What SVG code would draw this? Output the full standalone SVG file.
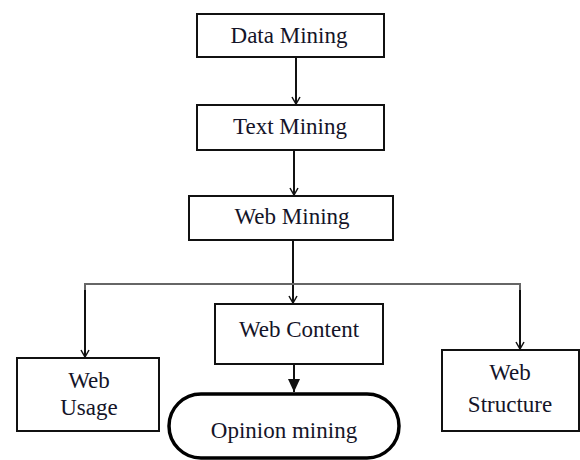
<svg xmlns="http://www.w3.org/2000/svg" width="580" height="460" viewBox="0 0 580 460">
<style>
.box{fill:#fff;stroke:#111;stroke-width:2}
.t{font-family:"Liberation Serif","Times New Roman",serif;font-size:23px;fill:#141428;text-anchor:middle}
.c{fill:none;stroke:#111;stroke-width:2}
.g{fill:none;stroke:#666;stroke-width:2}
</style>
<defs>
<marker id="open" markerWidth="10" markerHeight="10" refX="8" refY="5" orient="auto" markerUnits="userSpaceOnUse">
<path d="M1,1 L8,5 L1,9" fill="none" stroke="#111" stroke-width="1.5"/>
</marker>
<marker id="fill" markerWidth="14" markerHeight="14" refX="13" refY="7" orient="auto" markerUnits="userSpaceOnUse">
<path d="M0,1 L13,7 L0,13 Z" fill="#111"/>
</marker>
</defs>
<rect width="580" height="460" fill="#fff"/>
<g id="connectors">
<line class="c" x1="296" y1="57" x2="296" y2="104" marker-end="url(#open)"/>
<line class="c" x1="294" y1="150" x2="294" y2="195" marker-end="url(#open)"/>
<line class="c" x1="293" y1="240" x2="293" y2="303" marker-end="url(#open)"/>
<polyline class="g" points="85,358 85,284 520,284 520,349"/>
<line class="c" x1="85" y1="290" x2="85" y2="357" marker-end="url(#open)"/>
<line class="c" x1="520" y1="290" x2="520" y2="349" marker-end="url(#open)"/>
<line class="c" x1="294" y1="364" x2="294" y2="392" marker-end="url(#fill)"/>
</g>
<g id="data-mining">
<rect class="box" x="197" y="14" width="187" height="43"/>
<text class="t" x="289" y="43">Data Mining</text>
</g>
<g id="text-mining">
<rect class="box" x="197" y="105" width="187" height="45"/>
<text class="t" x="290" y="134">Text Mining</text>
</g>
<g id="web-mining">
<rect class="box" x="189" y="196" width="204" height="44"/>
<text class="t" x="292" y="224">Web Mining</text>
</g>
<g id="web-content">
<rect class="box" x="215" y="304" width="168" height="60"/>
<text class="t" x="299" y="337">Web Content</text>
</g>
<g id="web-usage">
<rect class="box" x="17" y="358" width="142" height="73"/>
<text class="t" x="89" y="388">Web</text>
<text class="t" x="89" y="415">Usage</text>
</g>
<g id="web-structure">
<rect class="box" x="442" y="350" width="137" height="81"/>
<text class="t" x="510" y="380">Web</text>
<text class="t" x="510" y="412">Structure</text>
</g>
<g id="opinion-mining">
<rect x="169" y="394" width="230" height="64" rx="32" ry="32" fill="#fff" stroke="#000" stroke-width="3.5"/>
<text class="t" x="284" y="438">Opinion mining</text>
</g>
</svg>
